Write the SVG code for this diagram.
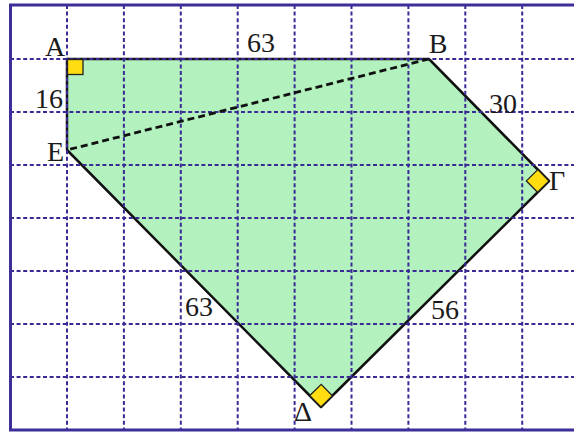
<svg xmlns="http://www.w3.org/2000/svg" width="574" height="432" viewBox="0 0 574 432">
<style>
.grid{stroke:#3a2a96;stroke-width:2;stroke-dasharray:4 2.6;fill:none}
.edge{stroke:#111;stroke-width:2.5;fill:none;stroke-linecap:round;stroke-linejoin:round}
.diag{stroke:#111;stroke-width:2.8;fill:none;stroke-dasharray:7 4}
.mark{fill:#ffdd11;stroke:#222;stroke-width:1.3}
.lbl{font-family:"Liberation Serif","DejaVu Serif",serif;font-size:28px;fill:#1a1a1a;text-anchor:middle}
</style>
<rect x="0" y="0" width="574" height="432" fill="#fff"/>
<polygon points="67,59 429,59 549,181 321,407 67,150" fill="#b3f1be"/>
<g id="connectors">
<path class="edge" d="M67,59 L429,59 L549,181 L321,407 L67,150 Z"/>
</g>
<g id="grid">
<path class="grid" d="M10,59H574M10,112H574M10,165H574M10,218H574M10,271H574M10,324H574M10,377H574"/>
<path class="grid" d="M67,5V430M123.9,5V430M180.8,5V430M237.7,5V430M294.6,5V430M351.5,5V430M408.4,5V430M465.3,5V430M522.2,5V430"/>
</g>
<rect x="10.5" y="5" width="580" height="425" fill="none" stroke="#3d2f99" stroke-width="3"/>
<g id="diagonal">
<line class="diag" x1="429" y1="59" x2="67" y2="150"/>
</g>
<g id="A">
<rect class="mark" x="67.5" y="59.5" width="15.5" height="15"/>
<text class="lbl" x="55" y="56">A</text>
</g>
<g id="B">
<text class="lbl" x="438" y="53">B</text>
</g>
<g id="Gamma">
<polygon class="mark" points="549,181 537.8,169.6 526.4,180.9 537.6,192.3"/>
<text class="lbl" x="557" y="190">Γ</text>
</g>
<g id="Delta">
<polygon class="mark" points="321,407 332.4,395.7 321.2,384.3 309.8,395.6"/>
<text class="lbl" x="303" y="421">Δ</text>
</g>
<g id="E">
<text class="lbl" x="55.5" y="161">E</text>
</g>
<g id="labels">
<text class="lbl" x="261" y="52">63</text>
<text class="lbl" x="49" y="108">16</text>
<text class="lbl" x="503" y="113">30</text>
<text class="lbl" x="199" y="316">63</text>
<text class="lbl" x="445" y="319">56</text>
</g>
</svg>
